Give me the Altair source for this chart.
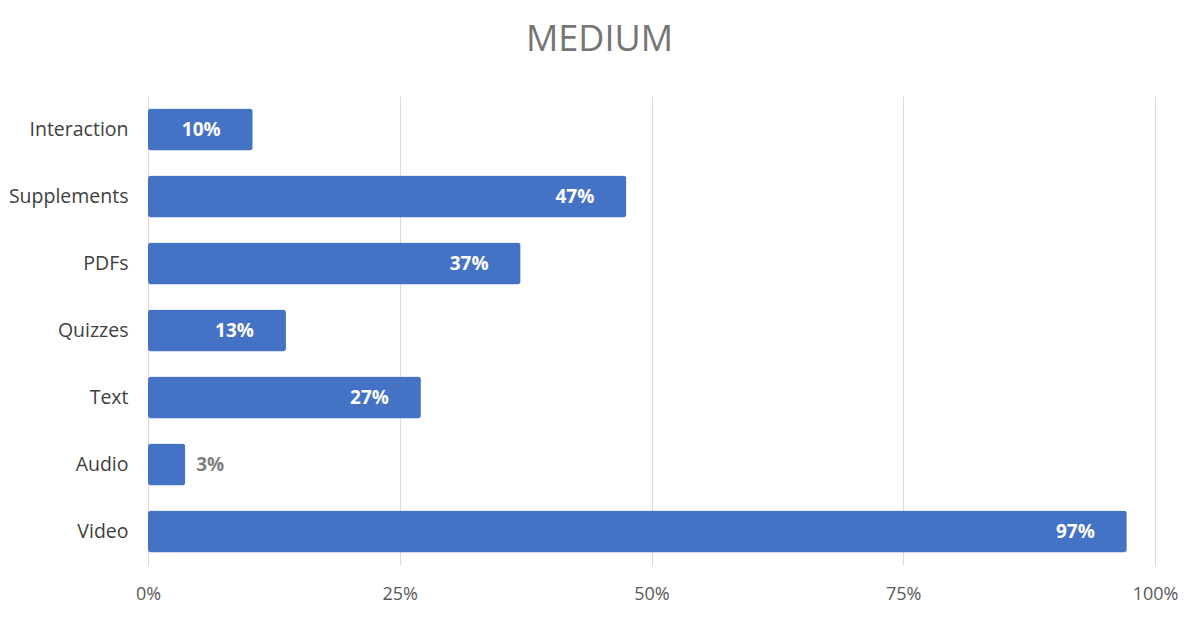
import altair as alt
import pandas as pd

categories = ["Interaction", "Supplements", "PDFs", "Quizzes", "Text", "Audio", "Video"]
values = [10.4, 47.5, 37.0, 13.7, 27.1, 3.7, 97.2]
labels = ["10%", "47%", "37%", "13%", "27%", "3%", "97%"]

df = pd.DataFrame({"cat": categories, "val": [v / 100 for v in values], "lab": labels})

FONT = "Open Sans"

y = alt.Y("cat:N", sort=categories, title=None,
          scale=alt.Scale(paddingInner=0.37, paddingOuter=0.185),
          axis=alt.Axis(domain=False, ticks=False, grid=False, labelFontSize=19.5,
                        labelColor="#404040", labelPadding=20, labelFont=FONT,
                        labelLimit=200))
x = alt.X("val:Q", title=None,
          scale=alt.Scale(domain=[0, 1], nice=False),
          axis=alt.Axis(values=[0, 0.25, 0.5, 0.75, 1], format=".0%", domain=False, ticks=False,
                        grid=True, gridColor="#d9d9d9", gridWidth=1, labelFontSize=18,
                        labelColor="#595959", labelPadding=20, labelFont=FONT,
                        labelFlush=False))

bars = alt.Chart(df).mark_bar(color="#4472C4", cornerRadius=3).encode(x=x, y=y)

inside = alt.Chart(df).transform_filter("datum.val >= 0.05").mark_text(
    align="right", baseline="middle", dx=-32, color="white", fontWeight="bold",
    fontSize=19, font=FONT).encode(x="val:Q", y=alt.Y("cat:N", sort=categories), text="lab:N")

outside = alt.Chart(df).transform_filter("datum.val < 0.05").mark_text(
    align="left", baseline="middle", dx=11, color="#7f7f7f", fontWeight="bold",
    fontSize=19, font=FONT).encode(x="val:Q", y=alt.Y("cat:N", sort=categories), text="lab:N")

chart = alt.layer(bars, inside, outside).properties(
    width=1007, height=469,
    title=alt.TitleParams("MEDIUM", fontSize=36, font=FONT, fontWeight="normal",
                          color="#757575", anchor="middle", offset=37, dx=-52),
    autosize=alt.AutoSizeParams(type="none"),
    padding={"left": 140, "top": 88, "right": 37, "bottom": 48},
).configure_view(stroke=None)

chart.save("out.html", embed_options={"renderer": "svg", "actions": False})
